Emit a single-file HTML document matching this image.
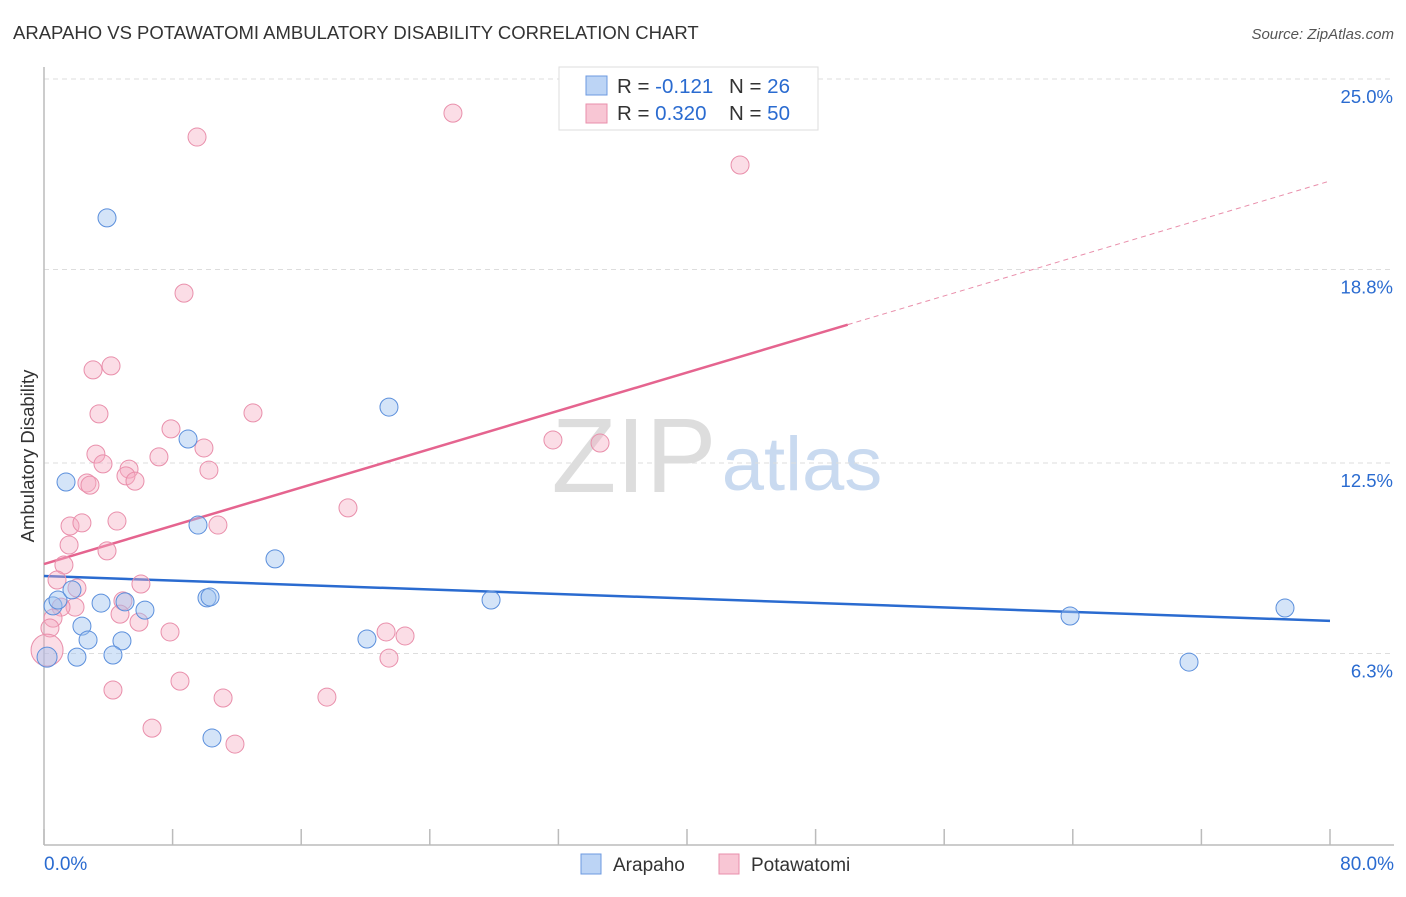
<!DOCTYPE html>
<html><head><meta charset="utf-8"><style>
body{margin:0;background:#fff;font-family:"Liberation Sans",sans-serif;}
svg text{font-family:"Liberation Sans",sans-serif;}
</style></head><body>
<svg id="chart" width="1406" height="892">
<text x="13" y="39" font-size="18.5" fill="#333">ARAPAHO VS POTAWATOMI AMBULATORY DISABILITY CORRELATION CHART</text>
<text x="1394" y="39" font-size="15" fill="#555" font-style="italic" text-anchor="end">Source: ZipAtlas.com</text>
<text x="34" y="456" font-size="18.5" fill="#333" text-anchor="middle" transform="rotate(-90 34 456)">Ambulatory Disability</text>
<g><text x="634" y="492" font-size="106" fill="#ddd" font-family="Liberation Serif" text-anchor="middle">ZIP</text><text x="802" y="490" font-size="76" fill="#c9daf0" text-anchor="middle">atlas</text></g>
<g id="grid"></g><g id="axes"></g><g id="trend"></g><g id="points"></g>
<g>
<rect x="559" y="67" width="259" height="63" fill="#fff" stroke="#ddd"/>
<rect x="586" y="76" width="21" height="19" fill="#bcd4f5" stroke="#6c9ae0"/>
<rect x="586" y="104" width="21" height="19" fill="#f8c6d4" stroke="#e98fab"/>
<text x="617" y="93" font-size="20.5" fill="#333">R = <tspan fill="#2a6bd0">-0.121</tspan></text>
<text x="729" y="93" font-size="20.5" fill="#333">N = <tspan fill="#2a6bd0">26</tspan></text>
<text x="617" y="120" font-size="20.5" fill="#333">R = <tspan fill="#2a6bd0">0.320</tspan></text>
<text x="729" y="120" font-size="20.5" fill="#333">N = <tspan fill="#2a6bd0">50</tspan></text>
</g>
<g>
<rect x="581" y="854" width="20" height="20" fill="#bcd4f5" stroke="#6c9ae0"/>
<text x="613" y="871" font-size="19" fill="#333">Arapaho</text>
<rect x="719" y="854" width="20" height="20" fill="#f8c6d4" stroke="#e98fab"/>
<text x="751" y="871" font-size="19" fill="#333">Potawatomi</text>
</g>
</svg>
<script>
const yTicks=[25.0,18.8,12.5,6.3];
const yTickLabels=["25.0%","18.8%","12.5%","6.3%"];
const xAxisLabels=["0.0%","80.0%"];
const blueX=[3.92,21.46,8.96,1.37,9.58,14.37,0.56,0.87,1.74,3.55,5.04,6.28,10.14,10.33,2.36,2.74,4.85,4.29,2.05,0.19,20.09,27.81,63.83,77.2,71.23,10.45];
const blueY=[20.48,14.32,13.28,11.88,10.48,9.38,7.85,8.04,8.37,7.94,7.98,7.71,8.11,8.14,7.19,6.74,6.71,6.25,6.18,6.18,6.77,8.04,7.52,7.78,6.02,3.55];
const pinkX=[25.44,9.52,43.3,8.71,4.17,3.05,3.42,13.0,7.9,9.95,3.23,7.15,3.67,10.26,5.29,5.1,5.66,2.67,2.86,31.66,34.59,18.91,4.54,1.62,2.36,10.82,1.56,3.92,1.24,0.81,2.05,6.03,4.91,1.93,1.06,4.73,0.56,5.91,0.37,7.84,21.28,22.46,0.19,21.46,4.29,8.46,11.14,17.6,6.72,11.88];
const pinkY=[23.89,23.11,22.2,18.03,15.66,15.53,14.1,14.13,13.61,12.99,12.79,12.7,12.47,12.27,12.3,12.08,11.91,11.85,11.78,13.25,13.15,11.04,10.61,10.45,10.55,10.48,9.83,9.64,9.18,8.69,8.43,8.56,8.01,7.81,7.81,7.58,7.45,7.32,7.13,7.0,7.0,6.87,6.41,6.15,5.11,5.4,4.85,4.88,3.87,3.35];
const blueTrend=[8.82,7.36];
const pinkTrend=[9.21,21.68];
const pinkSolidEnd=50;
const NS="http://www.w3.org/2000/svg";
const sx=v=>44+v*(1330-44)/80;
const sy=v=>847-v*30.72;
function mk(tag,attrs,parent){const e=document.createElementNS(NS,tag);for(const k in attrs)e.setAttribute(k,attrs[k]);document.getElementById(parent).appendChild(e);return e;}
yTicks.forEach((t,i)=>{
  const l=mk('line',{x1:44,x2:1394,y1:sy(t),y2:sy(t),stroke:'#ddd','stroke-dasharray':'5,4'},'grid');
  
  
  const tx=mk('text',{x:1393,y:sy(t)+24,'font-size':18.5,fill:'#2a6bd0','text-anchor':'end'},'grid');
  tx.textContent=yTickLabels[i];
  
  
});
let a=mk('line',{x1:44,x2:44,y1:67,y2:845,stroke:'#bbb','stroke-width':1.5},'axes');


a=mk('line',{x1:44,x2:1394,y1:845,y2:845,stroke:'#bbb','stroke-width':1.5},'axes');


for(let i=0;i<=10;i++){
  const t=mk('line',{x1:sx(i*8),x2:sx(i*8),y1:829,y2:845,stroke:'#bbb','stroke-width':1.5},'axes');
  
  
}
let xl=mk('text',{x:44,y:870,'font-size':19,fill:'#2a6bd0'},'axes');xl.textContent=xAxisLabels[0];


xl=mk('text',{x:1394,y:870,'font-size':19,fill:'#2a6bd0','text-anchor':'end'},'axes');xl.textContent=xAxisLabels[1];


let tl=mk('line',{x1:sx(0),y1:sy(blueTrend[0]),x2:sx(80),y2:sy(blueTrend[1]),stroke:'#2a6bd0','stroke-width':2.5},'trend');


const py=x=>pinkTrend[0]+(pinkTrend[1]-pinkTrend[0])*x/80;
tl=mk('line',{x1:sx(0),y1:sy(py(0)),x2:sx(pinkSolidEnd),y2:sy(py(pinkSolidEnd)),stroke:'#e5648f','stroke-width':2.5},'trend');


tl=mk('line',{x1:sx(pinkSolidEnd),y1:sy(py(pinkSolidEnd)),x2:sx(80),y2:sy(py(80)),stroke:'#e98fab','stroke-width':1,'stroke-dasharray':'5,4'},'trend');


pinkX.forEach((x,i)=>{
  const c=mk('circle',{cx:sx(x),cy:sy(pinkY[i]),r:(i===42?16:9),fill:'rgba(245,170,192,0.4)',stroke:'#e98fab','stroke-width':1},'points');
  
  
});
blueX.forEach((x,i)=>{
  const c=mk('circle',{cx:sx(x),cy:sy(blueY[i]),r:(i===19?10:9),fill:'rgba(160,195,240,0.45)',stroke:'#5b8fdc','stroke-width':1},'points');
  
  
});
</script>
</body></html>
